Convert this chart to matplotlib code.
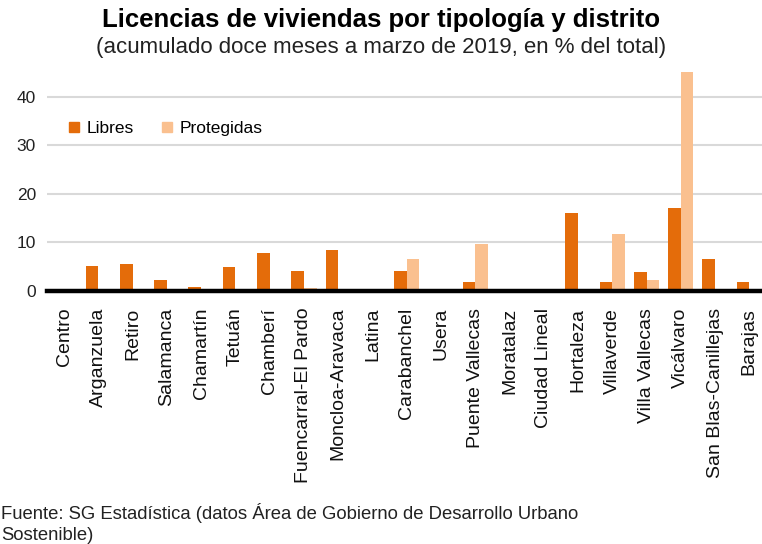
import matplotlib
matplotlib.use("Agg")
import matplotlib.pyplot as plt
from matplotlib.lines import Line2D
import numpy as np

plt.rcParams['font.family'] = ['Liberation Sans', 'DejaVu Sans']

# --- DATA ---
distritos = ["Centro", "Arganzuela", "Retiro", "Salamanca", "Chamartín", "Tetuán",
             "Chamberí", "Fuencarral-El Pardo", "Moncloa-Aravaca", "Latina",
             "Carabanchel", "Usera", "Puente Vallecas", "Moratalaz", "Ciudad Lineal",
             "Hortaleza", "Villaverde", "Villa Vallecas", "Vicálvaro",
             "San Blas-Canillejas", "Barajas"]
libres = [0, 5.2, 5.6, 2.3, 0.9, 4.9, 7.9, 4.2, 8.5, 0, 4.2, 0, 1.9, 0, 0,
          16.1, 1.9, 3.9, 17.2, 6.5, 1.9]
protegidas = [0, 0, 0, 0, 0, 0, 0, 0.6, 0, 0, 6.5, 0, 9.6, 0, 0,
              0, 11.8, 2.3, 45.2, 0, 0]
yticks = [0, 10, 20, 30, 40]

color_lib = "#E46C0A"
color_pro = "#FAC08F"

# --- FIGURE ---
W, H = 762, 544
fig = plt.figure(figsize=(W / 100, H / 100), dpi=100)

# axes placed in pixel terms: zero line at y=291, 45.5 units ~ 220 px, 34.26 px per district
left, right = 47, 47 + 21 * 34.26
top, bottom = 70.3, 291
ax = fig.add_axes([left / W, 1 - bottom / H, (right - left) / W, (bottom - top) / H])

x = np.arange(len(distritos))
bw = 0.37
ax.bar(x - bw / 2, libres, bw, color=color_lib, zorder=3)
ax.bar(x + bw / 2, protegidas, bw, color=color_pro, zorder=3)

ax.set_xlim(-0.5, len(distritos) - 0.5)
ax.set_ylim(0, 45.5)
ax.set_yticks(yticks)
ax.yaxis.grid(True, color="#D9D9D9", lw=1.5, zorder=0)
ax.set_axisbelow(True)
for s in ax.spines.values():
    s.set_visible(False)
ax.axhline(0, color="black", lw=3.2, zorder=4, clip_on=False)

ax.set_xticks(x)
ax.set_xticklabels(distritos, rotation=90, va="top", ha="center", fontsize=14)
ax.tick_params(axis="x", length=0, pad=12, labelcolor="#111111")
ax.tick_params(axis="y", length=0, pad=8, labelsize=12.5, labelcolor="#222222")

# legend
handles = [Line2D([], [], ls="none", marker="s", ms=7, color=color_lib),
           Line2D([], [], ls="none", marker="s", ms=7, color=color_pro)]
fig.legend(handles, ["Libres", "Protegidas"], loc="center left",
           bbox_to_anchor=(68 / W, 1 - 128 / H), ncol=2, frameon=False,
           fontsize=12.5, handlelength=0.7, handletextpad=0.35,
           columnspacing=1.6, borderpad=0, borderaxespad=0)

# titles
fig.text(0.5, 1 - 20 / H, "Licencias de viviendas por tipología y distrito",
         ha="center", va="center", fontsize=18.5, fontweight="bold")
fig.text(0.5, 1 - 48 / H, "(acumulado doce meses a marzo de 2019, en % del total)",
         ha="center", va="center", fontsize=16, color="#222222")

# source
fig.text(1 / W, 1 - 513 / H,
         "Fuente: SG Estadística (datos Área de Gobierno de Desarrollo Urbano",
         ha="left", va="center", fontsize=13.3, color="#222222")
fig.text(1 / W, 1 - 536 / H, "Sostenible)",
         ha="left", va="center", fontsize=13.3, color="#222222")

fig.savefig("out.png", dpi=100)
